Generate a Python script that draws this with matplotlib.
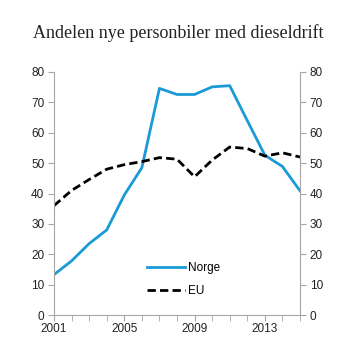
import numpy as np
import matplotlib
matplotlib.use("Agg")
import matplotlib.pyplot as plt
from matplotlib.ticker import MultipleLocator

# ===== DATA =====
years = list(range(2001, 2016))
norge = [13.3, 17.8, 23.5, 28.0, 39.5, 48.5, 74.6, 72.6, 72.6, 75.1, 75.5, 64.0, 52.6, 48.9, 40.9]
eu = [36.0, 41.0, 44.6, 48.0, 49.5, 50.5, 51.8, 51.3, 45.5, 51.0, 55.3, 54.8, 52.3, 53.4, 52.0]
xticks = [2001, 2005, 2009, 2013]
yticks = [0, 10, 20, 30, 40, 50, 60, 70, 80]

plt.rcParams['font.family'] = ['Liberation Sans', 'DejaVu Sans']
grey = '#a6a6a6'

fig = plt.figure(figsize=(3.53, 3.53), dpi=100)
ax = fig.add_axes([54/353, 38/353, 246/353, 243/353])

ax.plot(years, norge, color='#1a9ad6', linewidth=2, label='Norge')
ax.plot(years, eu, color='black', linewidth=2, linestyle=(0, (3, 1.5)), label='EU')

ax.set_xlim(2001, 2015)
ax.set_ylim(0, 80)
ax.set_xticks(xticks)
ax.xaxis.set_minor_locator(MultipleLocator(1))
ax.set_yticks(yticks)

ax.spines['top'].set_visible(False)
for side in ['left', 'right', 'bottom']:
    ax.spines[side].set_color(grey)
    ax.spines[side].set_linewidth(0.8)

ax.tick_params(axis='both', which='both', color=grey, direction='out', labelsize=8.5,
               labelcolor='#222222')
ax.tick_params(axis='x', which='major', length=4, pad=2)
ax.tick_params(axis='x', which='minor', length=4)
ax.tick_params(axis='y', length=4, pad=3, right=True, labelright=True)

ax.legend(loc='lower left', bbox_to_anchor=(0.335, 0.03), frameon=False, fontsize=8.5,
          handlelength=3.2, handletextpad=0.3, labelspacing=0.9)

fig.text(0.506, 0.905, 'Andelen nye personbiler med dieseldrift', ha='center', va='center',
         fontsize=13, family=['Liberation Serif', 'DejaVu Serif'], color='#222222')

fig.savefig('out.png', dpi=100)
